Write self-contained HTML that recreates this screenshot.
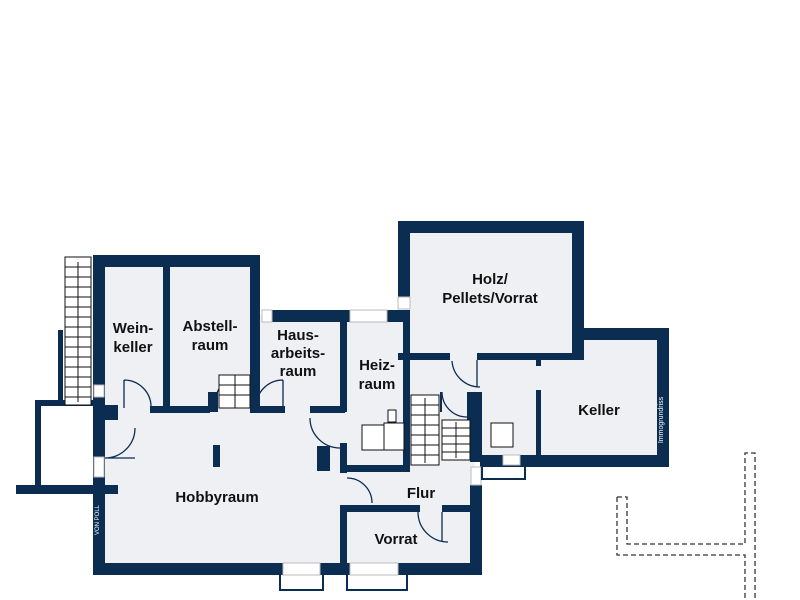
<!DOCTYPE html>
<html><head><meta charset="utf-8"><style>
html,body{margin:0;padding:0;background:#fff;}
svg{display:block;}
text{font-family:"Liberation Sans",sans-serif;font-weight:bold;font-size:15px;fill:#111;text-anchor:middle;}
</style></head><body>
<svg width="800" height="600" viewBox="0 0 800 600">
<g fill="#eef0f4">
<rect x="100" y="262" width="155" height="150"/>
<rect x="100" y="405" width="245" height="165"/>
<rect x="255" y="315" width="90" height="95"/>
<rect x="345" y="315" width="62" height="155"/>
<rect x="405" y="228" width="172" height="130"/>
<rect x="405" y="355" width="70" height="155"/>
<rect x="475" y="355" width="190" height="105"/>
<rect x="577" y="338" width="85" height="20"/>
<rect x="345" y="465" width="130" height="105"/>
</g>
<g fill="#0c2d52">
<rect x="93" y="255" width="12" height="320"/>
<rect x="93" y="255" width="167" height="12"/>
<rect x="163" y="255" width="7" height="157"/>
<rect x="250" y="255" width="10" height="157"/>
<rect x="150" y="406" width="60" height="7"/>
<rect x="208" y="392" width="10" height="20"/>
<rect x="250" y="406" width="35" height="7"/>
<rect x="310" y="406" width="35" height="7"/>
<rect x="105" y="405" width="13" height="15"/>
<rect x="272" y="310" width="78" height="12"/>
<rect x="387" y="310" width="23" height="12"/>
<rect x="340" y="310" width="7" height="102"/>
<rect x="317" y="446" width="13" height="25"/>
<rect x="340" y="443" width="7" height="30"/>
<rect x="340" y="465" width="70" height="7"/>
<rect x="403" y="310" width="7" height="162"/>
<rect x="398" y="221" width="12" height="79"/>
<rect x="398" y="221" width="186" height="12"/>
<rect x="572" y="221" width="12" height="139"/>
<rect x="398" y="353" width="52" height="7"/>
<rect x="477" y="353" width="107" height="7"/>
<rect x="584" y="328" width="85" height="12"/>
<rect x="657" y="328" width="12" height="139"/>
<rect x="480" y="455" width="189" height="12"/>
<rect x="536" y="360" width="5" height="6"/>
<rect x="536" y="390" width="5" height="67"/>
<rect x="470" y="392" width="12" height="70"/>
<rect x="470" y="485" width="12" height="90"/>
<rect x="467" y="392" width="3" height="40"/>
<rect x="440" y="392" width="2" height="20"/>
<rect x="340" y="505" width="80" height="7"/>
<rect x="442" y="505" width="30" height="7"/>
<rect x="340" y="505" width="7" height="70"/>
<rect x="93" y="563" width="190" height="12"/>
<rect x="320" y="563" width="30" height="12"/>
<rect x="398" y="563" width="84" height="12"/>
<rect x="35" y="400" width="6" height="90"/>
<rect x="35" y="400" width="60" height="6"/>
<rect x="16" y="485" width="102" height="9"/>
<rect x="58" y="330" width="5" height="72"/>
<rect x="93" y="390" width="3" height="10"/>
<rect x="213" y="445" width="7" height="22"/>
</g>
<g fill="#fff" stroke="#bbb" stroke-width="1">
<rect x="262" y="310" width="10" height="12"/>
<rect x="350" y="310" width="37" height="12"/>
<rect x="398" y="297" width="12" height="12"/>
<rect x="94" y="385" width="10" height="12"/>
<rect x="94" y="457" width="10" height="20"/>
<rect x="283" y="563" width="37" height="12"/>
<rect x="350" y="563" width="48" height="12"/>
<rect x="471" y="467" width="10" height="18"/>
<rect x="503" y="455" width="17" height="10"/>
</g>
<g fill="none" stroke="#0c2d52" stroke-width="2">
<path d="M280 575v15h43v-15 M347 575v15h60v-15 M482 467v12h43v-12"/>
</g>
<g fill="none" stroke="#0c2d52" stroke-width="1.3">
<path d="M124 380v28 M124 380a27 27 0 0 1 27 28"/>
<path d="M105 458h30 M105 458a30 30 0 0 0 30-30"/>
<path d="M283 380v28 M283 380a27 27 0 0 0 -27 28"/>
<path d="M310 418a30 30 0 0 0 30 30"/>
<path d="M347 478a25 25 0 0 1 25 25"/>
<path d="M452 361a28 28 0 0 0 28 26 M477 360v27"/>
<path d="M442 392a25 25 0 0 0 25 25"/>
<path d="M418 512a30 30 0 0 0 30 30 M442 512v30"/>
<path d="M236 378a22 22 0 0 0 -20 22"/>
</g>
<g fill="#fff" stroke="#111" stroke-width="1">
<rect x="65" y="257" width="26" height="148"/>
<path d="M65 267h26M65 277h26M65 287h26M65 297h26M65 307h26M65 317h26M65 327h26M65 337h26M65 347h26M65 357h26M65 367h26M65 377h26M65 387h26M65 397h26"/>
<path d="M78 262v140"/>
<rect x="219" y="375" width="31" height="33"/>
<path d="M219 385h31M219 395h31M235 375v33"/>
<rect x="411" y="395" width="28" height="70"/>
<path d="M411 405h28M411 415h28M411 425h28M411 435h28M411 445h28M411 455h28M425 398v65"/>
<rect x="442" y="420" width="28" height="40"/>
<path d="M442 428h28M442 436h28M442 444h28M442 452h28M456 422v36"/>
<rect x="362" y="425" width="22" height="25"/>
<rect x="384" y="423" width="20" height="27"/>
<rect x="388" y="410" width="8" height="12"/>
<rect x="491" y="423" width="22" height="24"/>
</g>
<g fill="none" stroke="#333" stroke-width="1.3" stroke-dasharray="5,3">
<path d="M617 497h10v47h118v-91h10v147 M617 497v58h128v45"/>
</g>
<text x="133" y="333">Wein-</text><text x="133" y="352">keller</text>
<text x="210" y="331">Abstell-</text><text x="210" y="350">raum</text>
<text x="298" y="340">Haus-</text><text x="298" y="358">arbeits-</text><text x="298" y="376">raum</text>
<text x="377" y="370">Heiz-</text><text x="377" y="389">raum</text>
<text x="490" y="284">Holz/</text><text x="490" y="303">Pellets/Vorrat</text>
<text x="599" y="415">Keller</text>
<text x="217" y="502">Hobbyraum</text>
<text x="421" y="498">Flur</text>
<text x="396" y="544">Vorrat</text>
<text x="663" y="420" style="font-size:7px;font-weight:normal;fill:#fff" transform="rotate(-90 663 420)">Immogrundriss</text>
<text x="99" y="520" style="font-size:6px;font-weight:normal;fill:#fff" transform="rotate(-90 99 520)">VON POLL</text>
</svg>
</body></html>
